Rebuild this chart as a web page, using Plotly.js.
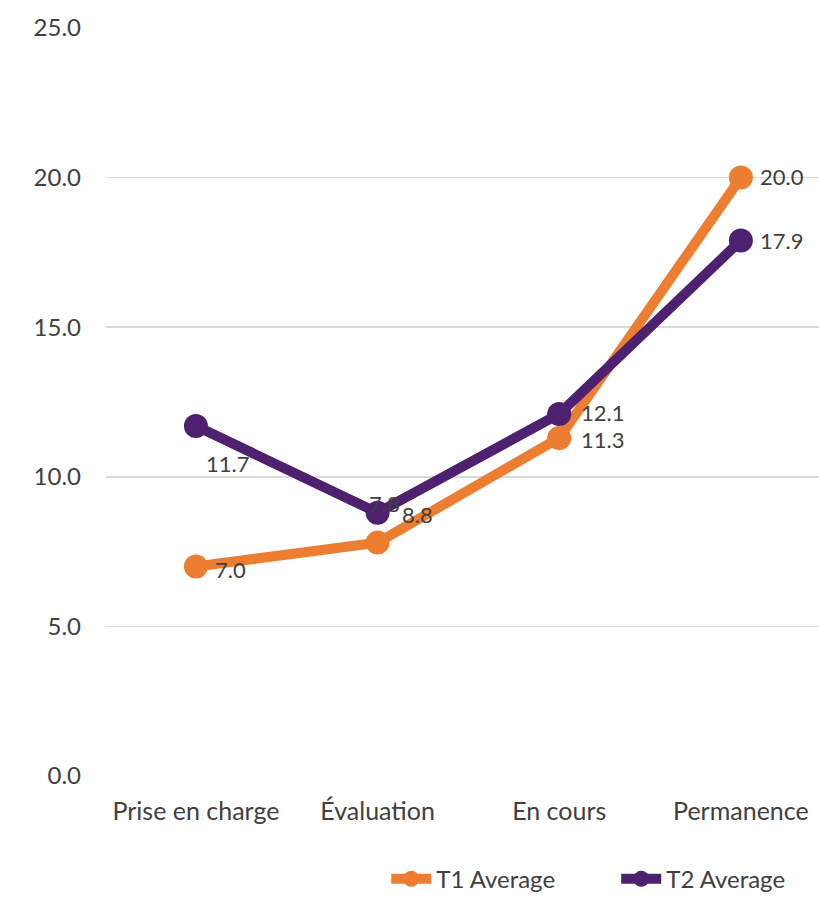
<!DOCTYPE html>
<html>
<head>
<meta charset="utf-8">
<script src="https://cdn.plot.ly/plotly-3.0.1.min.js"></script>
<style>html,body{margin:0;padding:0;background:#fff;}#chart{width:819px;height:897px;}</style>
</head>
<body>
<div id="chart"></div>
<script>
const categories = ["Prise en charge", "Évaluation", "En cours", "Permanence"];
const t1Name = "T1 Average";
const t2Name = "T2 Average";
const t1Values = [7.0, 7.8, 11.3, 20.0];
const t2Values = [11.7, 8.8, 12.1, 17.9];
const yTickVals = [0, 5, 10, 15, 20, 25];
const yTickText = ["0.0", "5.0", "10.0", "15.0", "20.0", "25.0"];

const t1Color = "#ED7D31";
const t2Color = "#4E2170";

// label offsets (pixels) per point: [xshift, yshift, xanchor]
const t1LabelPos = [[17, -3, "left"], [7, 39, "center"], [20, -2, "left"], [17, 1, "left"]];
const t2LabelPos = [[32, -38, "center"], [22, -2, "left"], [20, 1, "left"], [17, 0, "left"]];

const font = "Lato, 'Open Sans', sans-serif";
const textColor = "#404040";

function makeLabels(vals, pos) {
  return vals.map((v, i) => ({
    x: i, y: v, xref: "x", yref: "y",
    text: v.toFixed(1), showarrow: false,
    xanchor: pos[i][2], yanchor: "middle",
    xshift: pos[i][0], yshift: pos[i][1],
    font: {family: font, size: 22, color: textColor}
  }));
}

const traces = [
  {x: categories.map((c, i) => i), y: t1Values, name: t1Name, type: "scatter", mode: "lines+markers",
   line: {color: t1Color, width: 10}, marker: {color: t1Color, size: 24}},
  {x: categories.map((c, i) => i), y: t2Values, name: t2Name, type: "scatter", mode: "lines+markers",
   line: {color: t2Color, width: 10}, marker: {color: t2Color, size: 24}}
];

const layout = {
  width: 819, height: 897,
  margin: {l: 106, r: 0, t: 28, b: 121, autoexpand: false},
  paper_bgcolor: "#fff", plot_bgcolor: "#fff",
  font: {family: font, color: textColor},
  showlegend: true,
  legend: {orientation: "h", x: 0.393, xanchor: "left", y: -0.138, yanchor: "middle",
           font: {family: font, size: 24, color: textColor}, itemwidth: 40,
           entrywidth: 175, entrywidthmode: "pixels"},
  xaxis: {range: [-0.495, 3.43], tickvals: [0, 1, 2, 3], ticktext: categories, automargin: false,
          showgrid: false, zeroline: false, showline: false, ticks: "",
          tickfont: {family: font, size: 25, color: textColor}, ticklabelstandoff: 18},
  yaxis: {range: [0, 25], tickvals: yTickVals, ticktext: yTickText, automargin: false,
          showgrid: true, gridcolor: "#d9d9d9", gridwidth: 1.5, zeroline: false, showline: false,
          ticks: "", tickfont: {family: font, size: 24, color: textColor}, ticklabelstandoff: 24},
  annotations: makeLabels(t1Values, t1LabelPos).concat(makeLabels(t2Values, t2LabelPos))
};

Plotly.newPlot("chart", traces, layout, {displayModeBar: false, staticPlot: true});
</script>
</body>
</html>
